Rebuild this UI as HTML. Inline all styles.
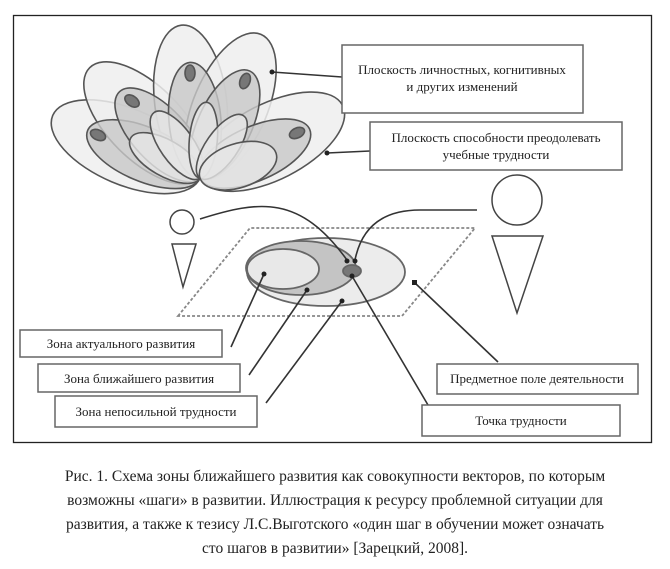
<!DOCTYPE html>
<html><head><meta charset="utf-8"><style>
body{margin:0;background:#fff;width:670px;height:569px;overflow:hidden;font-family:"Liberation Serif",serif;}
.cap{position:absolute;left:0;width:670px;text-align:center;font-size:15.5px;line-height:24px;top:465px;color:#222}
</style></head><body>
<svg width="670" height="460" style="position:absolute;left:0;top:0" font-family="Liberation Serif, serif" font-size="13">
<rect x="13.5" y="15.5" width="638" height="427" fill="none" stroke="#222" stroke-width="1.3"/>
<g stroke="#555" stroke-width="1.6">
<g fill="#eee" fill-opacity="0.85">
<ellipse cx="0" cy="0" rx="80" ry="38" transform="translate(200,178) rotate(-157) translate(80,0)"/>
<ellipse cx="0" cy="0" rx="78" ry="37" transform="translate(200,178) rotate(-135) translate(78,0)"/>
<ellipse cx="0" cy="0" rx="77" ry="36" transform="translate(200,178) rotate(-97) translate(77,0)"/>
<ellipse cx="0" cy="0" rx="78" ry="37" transform="translate(200,178) rotate(-67) translate(78,0)"/>
<ellipse cx="0" cy="0" rx="80" ry="38" transform="translate(200,178) rotate(-27) translate(80,0)"/>
</g>
<g fill="#c8c8c8" fill-opacity="0.8">
<ellipse cx="0" cy="0" rx="61" ry="27" transform="translate(200,178) rotate(-157) translate(61,0)"/>
<ellipse cx="0" cy="0" rx="59" ry="27" transform="translate(200,178) rotate(-133) translate(59,0)"/>
<ellipse cx="0" cy="0" rx="58" ry="26" transform="translate(200,178) rotate(-95) translate(58,0)"/>
<ellipse cx="0" cy="0" rx="59" ry="27" transform="translate(200,178) rotate(-65) translate(59,0)"/>
<ellipse cx="0" cy="0" rx="60" ry="27" transform="translate(200,178) rotate(-24) translate(60,0)"/>
</g>
<g fill="#e6e6e6" fill-opacity="0.8">
<ellipse cx="0" cy="0" rx="40" ry="18" transform="translate(200,178) rotate(-150) translate(40,0)"/>
<ellipse cx="0" cy="0" rx="40" ry="17" transform="translate(200,178) rotate(-125) translate(40,0)"/>
<ellipse cx="0" cy="0" rx="38" ry="14" transform="translate(200,178) rotate(-85) translate(38,0)"/>
<ellipse cx="0" cy="0" rx="38" ry="16" transform="translate(200,178) rotate(-55) translate(38,0)"/>
<ellipse cx="0" cy="0" rx="40" ry="22" transform="translate(200,178) rotate(-18) translate(40,0)"/>
</g>
<g fill="#777">
<ellipse cx="98" cy="135" rx="8" ry="5" transform="rotate(25 98 135)"/>
<ellipse cx="132" cy="101" rx="8" ry="5" transform="rotate(35 132 101)"/>
<ellipse cx="190" cy="73" rx="5" ry="8"/>
<ellipse cx="245" cy="81" rx="5" ry="8" transform="rotate(20 245 81)"/>
<ellipse cx="297" cy="133" rx="8" ry="5" transform="rotate(-25 297 133)"/>
</g>
</g>
<polygon points="178,316 250,228 475,228 402,316" fill="none" stroke="#888" stroke-width="1.8" stroke-dasharray="3,2"/>
<g stroke="#666" stroke-width="1.8">
<ellipse cx="326" cy="272" rx="79" ry="34" fill="#ececec"/>
<ellipse cx="301" cy="268" rx="55" ry="27" fill="#c4c4c4"/>
<ellipse cx="283" cy="269" rx="36" ry="20" fill="#e8e8e8"/>
<ellipse cx="352" cy="271" rx="9" ry="6" fill="#777"/>
</g>
<g fill="#fff" stroke="#444" stroke-width="1.5">
<circle cx="182" cy="222" r="12"/>
<polygon points="172,244 196,244 183,287"/>
<circle cx="517" cy="200" r="25"/>
<polygon points="492,236 543,236 517,313"/>
</g>
<g stroke="#333" stroke-width="1.6" fill="none">
<path d="M200,219 C260,200 300,195 347,260"/>
<path d="M477,210 L420,210 C385,210 362,225 355,260"/>
<line x1="231" y1="347" x2="264" y2="274"/>
<line x1="249" y1="375" x2="307" y2="290"/>
<line x1="266" y1="403" x2="342" y2="301"/>
<line x1="428" y1="405" x2="352" y2="276"/>
<line x1="498" y1="362" x2="415" y2="283"/>
<line x1="342" y1="77" x2="272" y2="72"/>
<line x1="370" y1="151" x2="327" y2="153"/>
</g>
<g fill="#222">
<circle cx="272" cy="72" r="2.5"/><circle cx="327" cy="153" r="2.5"/>
<circle cx="264" cy="274" r="2.5"/><circle cx="307" cy="290" r="2.5"/><circle cx="342" cy="301" r="2.5"/>
<circle cx="352" cy="276" r="2.5"/><rect x="412" y="280" width="5" height="5"/>
<circle cx="347" cy="261" r="2.5"/><circle cx="355" cy="261" r="2.5"/>
</g>
<g fill="#fff" stroke="#666" stroke-width="1.5">
<rect x="342" y="45" width="241" height="68"/>
<rect x="370" y="122" width="252" height="48"/>
<rect x="20" y="330" width="202" height="27"/>
<rect x="38" y="364" width="202" height="28"/>
<rect x="55" y="396" width="202" height="31"/>
<rect x="437" y="364" width="201" height="30"/>
<rect x="422" y="405" width="198" height="31"/>
</g>
<g fill="#222" text-anchor="middle">
<text x="462" y="74">Плоскость личностных, когнитивных</text>
<text x="462" y="91">и других изменений</text>
<text x="496" y="142">Плоскость способности преодолевать</text>
<text x="496" y="159">учебные трудности</text>
<text x="121" y="348">Зона актуального развития</text>
<text x="139" y="383">Зона ближайшего развития</text>
<text x="156" y="416">Зона непосильной трудности</text>
<text x="537" y="383">Предметное поле деятельности</text>
<text x="521" y="425">Точка трудности</text>
</g>
</svg>
<div class="cap">Рис. 1. Схема зоны ближайшего развития как совокупности векторов, по которым<br>возможны «шаги» в развитии. Иллюстрация к ресурсу проблемной ситуации для<br>развития, а также к тезису Л.С.Выготского «один шаг в обучении может означать<br>сто шагов в развитии» [Зарецкий, 2008].</div>
</body></html>
